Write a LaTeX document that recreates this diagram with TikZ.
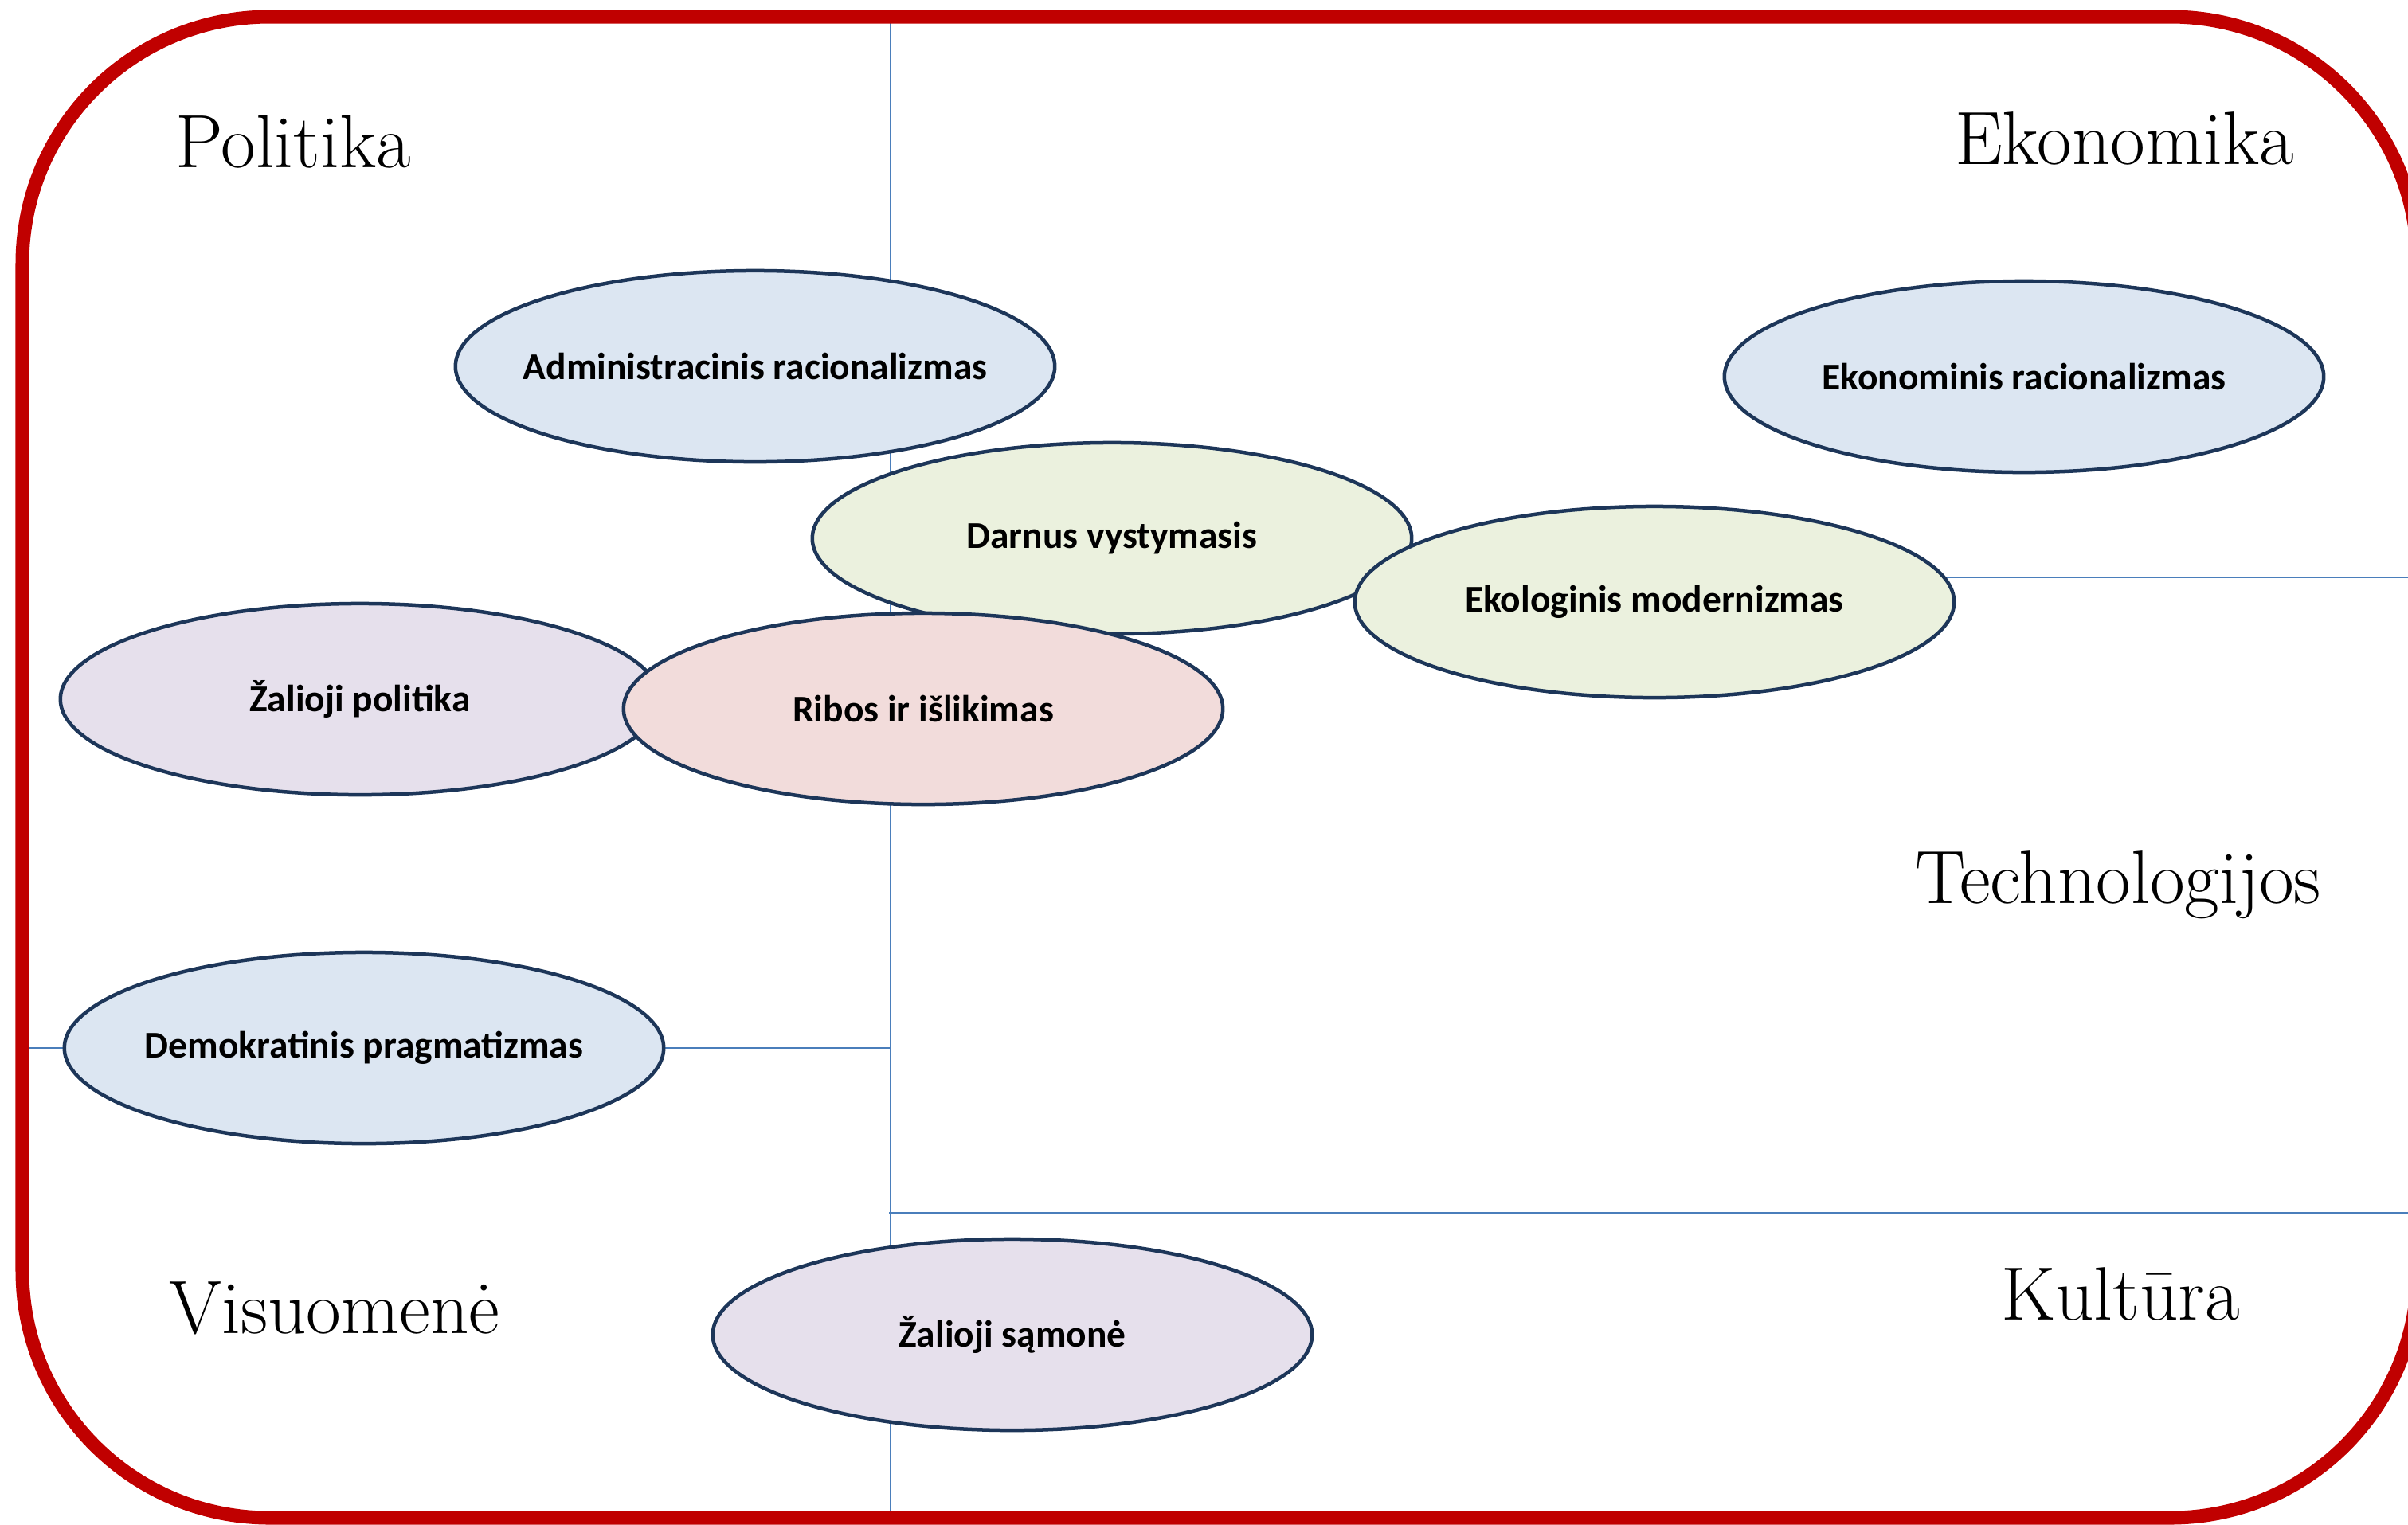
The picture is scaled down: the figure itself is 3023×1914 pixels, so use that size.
\documentclass[tikz,border=0pt]{standalone}
\usepackage{fontspec}
\usepackage{tikz}
\usetikzlibrary{shapes.geometric}
\newfontfamily\labelfont{Carlito}
\definecolor{framered}{HTML}{C00000}
\definecolor{axisblue}{HTML}{4A7EBB}
\definecolor{inkblue}{HTML}{1D3659}
\definecolor{fillblue}{HTML}{DCE6F2}
\definecolor{fillgreen}{HTML}{EBF1DE}
\definecolor{fillpink}{HTML}{F2DCDB}
\definecolor{filllilac}{HTML}{E6E0EC}
% label that does not widen its ellipse
\newcommand{\idealabel}[1]{\makebox[0pt]{#1}}

\begin{document}
\begin{tikzpicture}[x=0.01cm, y=-0.01cm,
        idea/.style={ellipse, draw=inkblue, line width=0.045cm, minimum width=7.52cm, minimum height=2.4cm, inner sep=0pt,
            font={\labelfont\bfseries\fontsize{13.5}{16}\selectfont}},
        area/.style={anchor=base, inner sep=0pt, font={\fontsize{27}{32}\selectfont}},
        axis line/.style={draw=axisblue, line width=0.025cm}]
        \useasboundingbox (0,0) rectangle (3023,1914);
        % axes behind the ellipses
        \coordinate (axis top) at (1118,20);
        \coordinate (axis bottom) at (1118,1904);
        \coordinate (axis eco) at (1118,725);
        \coordinate (right eco) at (3023,725);
        \coordinate (axis cult) at (1116,1523);
        \coordinate (right cult) at (3023,1523);
        \coordinate (left dem) at (27,1316);
        \coordinate (axis dem) at (1118,1316);
        \draw [axis line] (axis top) -- (axis bottom);
        \draw [axis line] (axis eco) -- (right eco);
        \draw [axis line] (axis cult) -- (right cult);
        \draw [axis line] (left dem) -- (axis dem);
        \draw [framered, line width=0.17cm, rounded corners=3.1cm] (28,21) rectangle (3035,1906);
        % ellipses
        \node (administracinis) [idea, fill=fillblue] at (948,460) {\idealabel{Administracinis racionalizmas}};
        \node (ekonominis) [idea, fill=fillblue] at (2541,473) {\idealabel{Ekonominis racionalizmas}};
        \node (zalioji politika) [idea, fill=filllilac] at (452,878) {\idealabel{Žalioji politika}};
        \node (darnus) [idea, fill=fillgreen] at (1396,676) {\idealabel{Darnus vystymasis}};
        \node (ekologinis) [idea, fill=fillgreen] at (2077,756) {\idealabel{Ekologinis modernizmas}};
        \node (ribos) [idea, fill=fillpink] at (1159,890) {\idealabel{Ribos ir išlikimas}};
        \node (demokratinis) [idea, fill=fillblue] at (457,1316) {\idealabel{Demokratinis pragmatizmas}};
        \node (zalioji samone) [idea, fill=filllilac] at (1271,1676) {\idealabel{Žalioji sąmonė}};
        % areas
        \node (politika) [area] at (368,210) {Politika};
        \node (ekonomika) [area] at (2667,206) {Ekonomika};
        \node (technologijos) [area] at (2659,1134) {Technologijos};
        \node (kultura) [area] at (2662,1657) {Kultūra};
        \node (visuomene) [area] at (420,1674) {Visuomenė};
\end{tikzpicture}
\end{document}
